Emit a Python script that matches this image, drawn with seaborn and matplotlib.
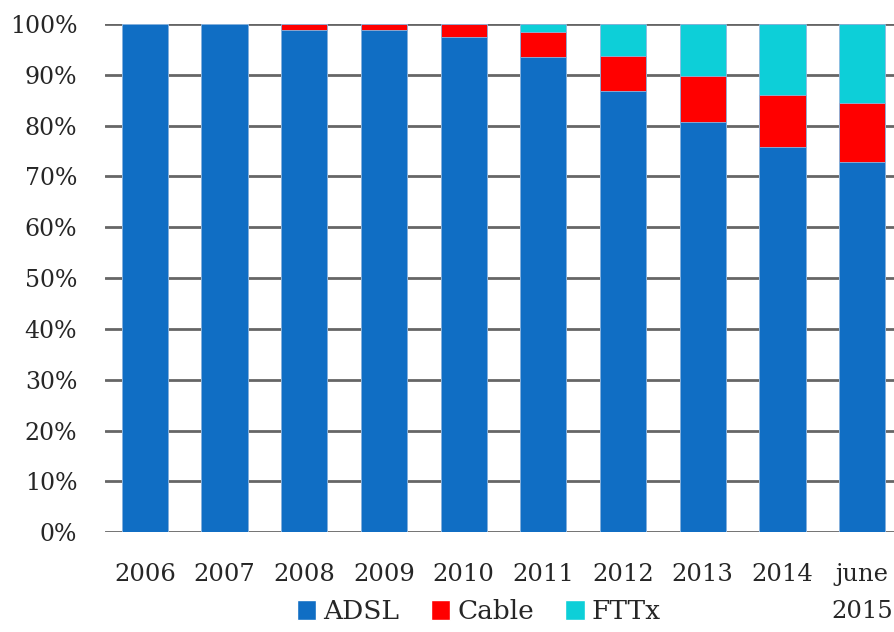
import seaborn as sns
import matplotlib.pyplot as plt
import pandas as pd
from matplotlib.patches import Patch

# Data (share of broadband lines, %)
years = ["2006", "2007", "2008", "2009", "2010", "2011", "2012", "2013", "2014", "june\n2015"]
adsl = [100, 100, 98.8, 98.9, 97.4, 93.6, 86.8, 80.7, 75.7, 72.8]
cable = [0, 0, 1.2, 1.1, 2.6, 4.9, 7.0, 9.1, 10.4, 11.6]
fttx = [0, 0, 0, 0, 0, 1.5, 6.2, 10.2, 13.9, 15.6]

colors = {"ADSL": "#106EC4", "Cable": "#FF0000", "FTTx": "#0DCFD8"}

df = pd.DataFrame({"year": years, "ADSL": adsl, "Cable": cable, "FTTx": fttx})
df["top_cable"] = df["ADSL"] + df["Cable"]
df["top_fttx"] = df["top_cable"] + df["FTTx"]

sns.set_style("white")
plt.rcParams["font.family"] = ["DejaVu Serif"]

fig = plt.figure(figsize=(8.95, 6.32), dpi=100)
ax = fig.add_axes([0.1173, 0.158, 0.8905, 0.804])

# stacked bars: draw cumulative totals from the top down
for col, name in [("top_fttx", "FTTx"), ("top_cable", "Cable"), ("ADSL", "ADSL")]:
    sns.barplot(data=df, x="year", y=col, color=colors[name], width=0.58,
                edgecolor="#8fb8e0", linewidth=0.6, saturation=1, ax=ax, zorder=3)

ax.set_ylim(0, 100)
ax.set_yticks(range(0, 101, 10))
ax.set_yticklabels([f"{v}%" for v in range(0, 101, 10)], fontsize=17)
ax.tick_params(axis="y", length=0, pad=20)
ax.set_xticks(range(len(years)))
ax.set_xticklabels(years, fontsize=17.5, linespacing=1.8)
ax.tick_params(axis="x", length=0, pad=22)
ax.grid(axis="y", color="#666666", linewidth=2, zorder=0)
ax.set_axisbelow(True)
for s in ax.spines.values():
    s.set_visible(False)
ax.set_xlabel("")
ax.set_ylabel("")

handles = [Patch(facecolor=colors[k], label=k) for k in ["ADSL", "Cable", "FTTx"]]
fig.legend(handles=handles, loc="lower center", bbox_to_anchor=(0.535, -0.025), ncol=3,
           frameon=False, fontsize=19, handlelength=0.75, handleheight=0.75,
           handletextpad=0.25, columnspacing=1.2)

plt.savefig("out.png", dpi=100)
plt.close()
